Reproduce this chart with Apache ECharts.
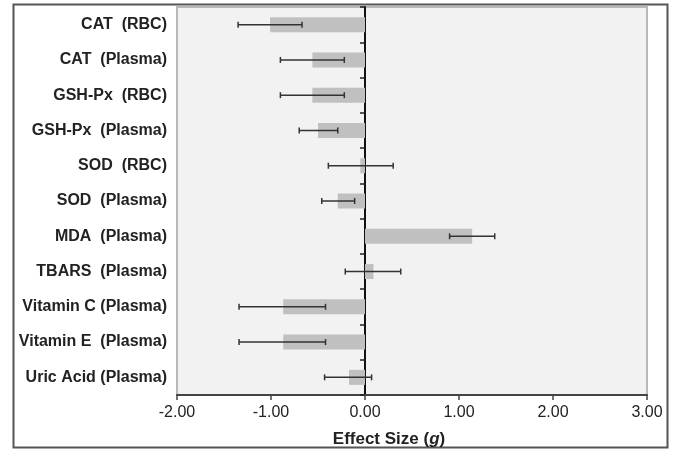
<!DOCTYPE html>
<html>
<head>
<meta charset="utf-8">
<script src="https://cdn.jsdelivr.net/npm/echarts@6/dist/echarts.min.js"></script>
<style>html,body{margin:0;padding:0;background:#fff;}#c{width:676px;height:449px;}</style>
</head>
<body>
<div id="c"></div>
<script>
var categories = ['CAT  (RBC)','CAT  (Plasma)','GSH-Px  (RBC)','GSH-Px  (Plasma)','SOD  (RBC)','SOD  (Plasma)','MDA  (Plasma)','TBARS  (Plasma)','Vitamin C (Plasma)','Vitamin E  (Plasma)','Uric Acid (Plasma)'];
var effect = [-1.01,-0.56,-0.56,-0.50,-0.05,-0.29,1.14,0.09,-0.87,-0.87,-0.17];
var ciLow  = [-1.35,-0.90,-0.90,-0.70,-0.39,-0.46,0.90,-0.21,-1.34,-1.34,-0.43];
var ciHigh = [-0.67,-0.22,-0.22,-0.29,0.30,-0.11,1.38,0.38,-0.42,-0.42,0.07];
var xTicks = [-2,-1,0,1,2,3];

var errData = categories.map(function(c,i){return [ciLow[i], ciHigh[i], i];});
var chart = echarts.init(document.getElementById('c'));
chart.setOption({
  animation:false,
  graphic:[{type:'rect',shape:{x:13.5,y:4.5,width:654,height:443},style:{fill:'none',stroke:'#555',lineWidth:2},z:-10}],
  grid:{left:177,right:29,top:7,bottom:54,containLabel:false,outerBoundsMode:'none',show:true,backgroundColor:'#f2f2f2',borderColor:'#b8b8b8',borderWidth:2},
  xAxis:{type:'value',min:xTicks[0],max:xTicks[xTicks.length-1],interval:1,
    axisLine:{show:true,onZero:false,lineStyle:{color:'#444',width:2}},
    axisTick:{show:true,length:5,lineStyle:{color:'#444',width:1.5}},
    splitLine:{show:false},
    axisLabel:{fontFamily:'Liberation Sans, Arial',fontSize:16,color:'#222',margin:10,formatter:function(v){return v.toFixed(2);}},
    name:'{a|Effect Size (}{b|g}{a|)}',nameLocation:'middle',nameGap:36,
    nameTextStyle:{padding:[0,46,0,0],rich:{a:{fontFamily:'Liberation Sans, Arial',fontSize:17,fontWeight:'bold',color:'#222'},b:{fontFamily:'Liberation Sans, Arial',fontSize:17,fontWeight:'bold',fontStyle:'italic',color:'#222'}}}
  },
  yAxis:[{type:'category',data:categories,inverse:true,
    axisLine:{show:false,onZero:false},axisTick:{show:false},
    axisLabel:{fontFamily:'Liberation Sans, Arial',fontSize:16,fontWeight:'bold',color:'#222',margin:10}},
   {type:'category',data:categories,inverse:true,position:'left',
    axisLine:{show:true,onZero:true,onZeroAxisIndex:0,lineStyle:{color:'#111',width:2}},
    axisTick:{show:true,length:5,lineStyle:{color:'#222',width:1.5}},
    axisLabel:{show:false}}],
  series:[
   {type:'bar',data:effect,barWidth:15,itemStyle:{color:'#c0c0c0'},yAxisIndex:0,z:2},
   {type:'custom',yAxisIndex:0,data:errData,encode:{x:[0,1],y:2},z:5,
    renderItem:function(params,api){
      var i=api.value(2);
      var p1=api.coord([api.value(0),i]);
      var p2=api.coord([api.value(1),i]);
      var h=3;
      var st={stroke:'#333',lineWidth:1.5};
      return {type:'group',children:[
        {type:'line',shape:{x1:p1[0],y1:p1[1],x2:p2[0],y2:p2[1]},style:st},
        {type:'line',shape:{x1:p1[0],y1:p1[1]-h,x2:p1[0],y2:p1[1]+h},style:st},
        {type:'line',shape:{x1:p2[0],y1:p2[1]-h,x2:p2[0],y2:p2[1]+h},style:st}
      ]};
    }}
  ]
});
</script>
</body>
</html>
